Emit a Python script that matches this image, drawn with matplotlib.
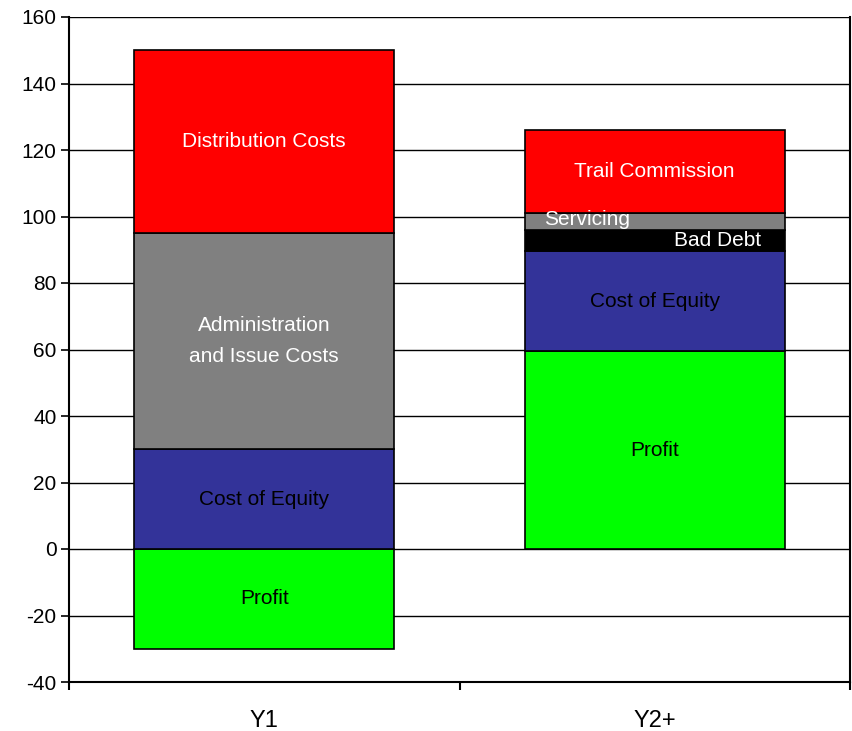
import matplotlib
matplotlib.use("Agg")
import matplotlib.pyplot as plt
import numpy as np

plt.rcParams['font.family'] = ['Liberation Sans', 'DejaVu Sans']

categories = ["Y1", "Y2+"]

# Stacked components (bottom -> top) for each column
y1_labels = ["Profit", "Cost of Equity", "Administration\nand Issue Costs", "Distribution Costs"]
y1_values = [-30, 30, 65, 55]
y1_colors = ["#00FF00", "#333399", "#808080", "#FF0000"]
y1_text = ["black", "black", "white", "white"]

y2_labels = ["Profit", "Cost of Equity", "Bad Debt", "Servicing", "Trail Commission"]
y2_values = [59.5, 30, 6.5, 5, 25]
y2_colors = ["#00FF00", "#333399", "#000000", "#808080", "#FF0000"]
y2_text = ["black", "black", "white", "white", "white"]

yticks = list(range(-40, 161, 20))

fig = plt.figure(figsize=(8.52, 7.31), dpi=100)
ax = fig.add_axes([69/852, 1 - 682/731, (850 - 69)/852, (682 - 17)/731])

bar_w = 2 / 3
x = np.arange(len(categories))
fs = 15

for yt in yticks:
    ax.axhline(yt, color="black", lw=1.0, zorder=0)

# Y1 column: profit is negative, the rest stack upward from zero
bottom = 0.0
for lab, v, c, tc in zip(y1_labels, y1_values, y1_colors, y1_text):
    if v < 0:
        b = 0.0
    else:
        b = bottom
        bottom += v
    ax.bar(x[0], v, bar_w, bottom=b, color=c, edgecolor="black", lw=1.2, zorder=2)
    ax.text(x[0], b + v / 2, lab, ha="center", va="center", color=tc,
            fontsize=fs, linespacing=1.8, zorder=3)

# Y2+ column
bottom = 0.0
for lab, v, c, tc in zip(y2_labels, y2_values, y2_colors, y2_text):
    ax.bar(x[1], v, bar_w, bottom=bottom, color=c, edgecolor="black", lw=1.2, zorder=2)
    mid = bottom + v / 2
    if lab == "Bad Debt":
        ax.text(x[1] + bar_w / 2 - 0.06, mid, lab, ha="right", va="center",
                color=tc, fontsize=fs, zorder=3)
    elif lab == "Servicing":
        ax.text(x[1] - bar_w / 2 + 0.05, mid + 0.6, lab, ha="left", va="center",
                color=tc, fontsize=fs, zorder=3)
    else:
        ax.text(x[1], mid, lab, ha="center", va="center", color=tc,
                fontsize=fs, zorder=3)
    bottom += v

ax.set_xlim(-0.5, 1.5)
ax.set_ylim(-40, 160)
ax.set_yticks(yticks)
ax.set_yticklabels([str(t) for t in yticks], fontsize=15)

# Category boundary ticks on the x axis, labels centred under the bars
ax.set_xticks([-0.5, 0.5, 1.5])
ax.set_xticklabels([])
ax.set_xticks(x, minor=True)
ax.set_xticklabels(categories, minor=True, fontsize=17)
ax.tick_params(axis="x", which="minor", length=0, pad=20)
ax.tick_params(axis="x", which="major", length=6, width=1.5, direction="out")
ax.tick_params(axis="y", length=6, width=1.2, direction="out", pad=3)

ax.spines["top"].set_visible(False)
ax.spines["right"].set_linewidth(1.5)
ax.spines["left"].set_linewidth(1.5)
ax.spines["bottom"].set_linewidth(1.5)

fig.savefig("out.png", dpi=100)
